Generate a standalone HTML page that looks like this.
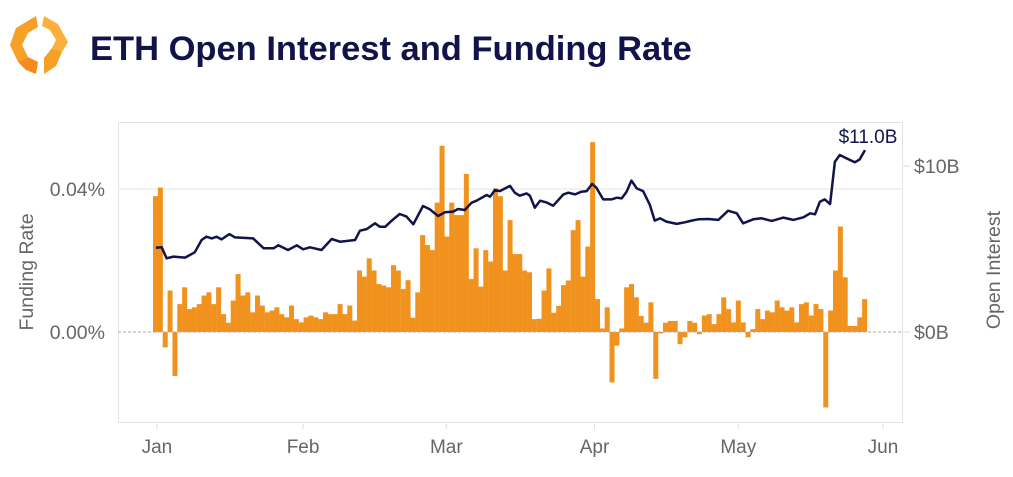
<!DOCTYPE html>
<html><head><meta charset="utf-8">
<style>
body{margin:0;background:#fff;width:1013px;height:472px;overflow:hidden;font-family:"Liberation Sans",Arial,sans-serif;}
</style></head>
<body>
<svg width="1013" height="472" viewBox="0 0 1013 472" xmlns="http://www.w3.org/2000/svg">
  <g>
    <polygon points="36,16 16,28 10,45 18,62 28,57 22,45 28,33 38,27" fill="#f7a028"/>
    <polygon points="44,16 58,24 68,42 62,52 52,48 56,40 50,30 42,26" fill="#fbb03b"/>
    <polygon points="18,62 28,57 38,62 36,74 26,70" fill="#f58a1f"/>
    <polygon points="62,52 52,48 44,58 44,74 56,66" fill="#f7a028"/>
  </g>
  <text x="90" y="60" font-size="34.5" font-weight="bold" fill="#12134a">ETH Open Interest and Funding Rate</text>
  <rect x="118.5" y="122.5" width="784" height="300" fill="none" stroke="#e3e3e3"/>
  <line x1="118" y1="189" x2="902" y2="189" stroke="#e6e6e6"/>
  <g id="bars"></g>
  <line x1="118" y1="332" x2="902" y2="332" stroke="#aaa" stroke-dasharray="3,2"/>
  <path id="oi" fill="none" stroke="#12134a" stroke-width="2.5" stroke-linejoin="round"/>
  <text x="868" y="143" font-size="19" fill="#12134a" text-anchor="middle">$11.0B</text>
  <g id="xticks"></g>
  <g font-size="19.5" fill="#666">
    <text x="105" y="196" text-anchor="end">0.04%</text>
    <text x="105" y="339" text-anchor="end">0.00%</text>
    <text transform="translate(33,272) rotate(-90)" text-anchor="middle">Funding Rate</text>
  </g>
  <g font-size="19.5" fill="#666">
    <line x1="903" y1="166" x2="910" y2="166" stroke="#ddd"/>
    <line x1="903" y1="332" x2="910" y2="332" stroke="#ddd"/>
    <text x="914" y="173">$10B</text>
    <text x="914" y="339">$0B</text>
    <text transform="translate(1000,270) rotate(-90)" text-anchor="middle">Open Interest</text>
  </g>
</svg>
<script>
const fundingRate = [0.038,0.0404,-0.0043,0.0116,-0.0123,0.0078,0.0125,0.0064,0.0069,0.0078,0.0102,0.0111,0.0078,0.0125,0.005,0.0026,0.0088,0.0162,0.0102,0.0111,0.0055,0.0102,0.0074,0.0055,0.006,0.0069,0.005,0.0041,0.0074,0.0036,0.0027,0.0041,0.0046,0.0041,0.0036,0.0055,0.005,0.005,0.0078,0.005,0.0074,0.0032,0.0172,0.0155,0.0206,0.0172,0.0134,0.013,0.0125,0.0187,0.0172,0.012,0.0145,0.004,0.0111,0.0271,0.0243,0.0229,0.0362,0.0521,0.0267,0.0362,0.0327,0.0327,0.0442,0.0148,0.0234,0.0127,0.0229,0.0197,0.0402,0.038,0.0172,0.0313,0.0218,0.0218,0.0172,0.0167,0.0036,0.0037,0.0116,0.0178,0.0054,0.0073,0.0131,0.0144,0.0285,0.0313,0.0155,0.0239,0.0531,0.0092,0.001,0.0069,-0.0141,-0.0038,0.001,0.0125,0.0134,0.0097,0.0045,0.0026,0.0083,-0.0131,-0.0004,0.0026,0.0031,0.0031,-0.0034,-0.0015,0.0031,0.0026,-0.0006,0.0046,0.005,0.0022,0.005,0.0097,0.0064,0.0027,0.0088,0.0027,-0.0015,0.0008,0.0064,0.0036,0.006,0.0055,0.0088,0.0069,0.006,0.0069,0.0027,0.0078,0.0083,0.0046,0.0078,0.0064,-0.0211,0.006,0.0172,0.0295,0.0153,0.0017,0.0017,0.0041,0.0092];
const oiDays = [0.1,1.3,2.3,3.7,6.1,8.1,9.5,10.5,11.6,12.6,13.6,15.2,16.4,20.1,22.3,24.3,25.3,27.3,29.1,30.4,31.8,34.2,36.3,38,41.1,42.1,43.5,45.2,46.2,47.3,48.6,50.3,51.7,53.1,55.1,56.5,58.2,59.6,61.3,62.3,63.7,65.1,66.1,68.2,68.9,69.9,70.9,73,74,75,76.4,77.1,78.1,79.2,80.5,81.9,84,85,86.4,87.7,88.8,89.9,90.8,92.2,93.9,95,96,97,98,99.1,100.4,101.8,102.8,103.9,105.2,107.3,109,110.4,111.8,113.8,115.9,117.9,119.7,121,123.1,124.8,126.9,129.3,131.3,133.4,134.8,135.8,136.8,137.8,138.9,139.9,140.9,142.3,144,145,146.1];
const oiValues = [5.08,5.10,4.44,4.54,4.48,4.80,5.54,5.74,5.64,5.74,5.58,5.90,5.70,5.64,5.04,5.04,5.22,4.94,5.22,4.98,5.10,4.94,5.60,5.44,5.54,6.10,6.20,6.55,6.34,6.34,6.70,7.11,6.95,6.49,7.59,7.39,6.99,7.21,7.25,7.41,7.35,7.79,7.91,8.25,8.15,8.55,8.49,8.80,8.39,8.21,8.35,8.21,7.49,7.91,7.81,7.61,8.29,8.39,8.29,8.45,8.49,8.92,8.69,7.99,7.99,8.09,8.05,8.45,9.12,8.65,8.49,7.65,6.71,6.85,6.65,6.51,6.61,6.71,6.79,6.81,6.75,7.31,7.15,6.55,6.79,6.85,6.69,6.89,6.75,6.91,7.15,7.09,7.85,7.99,7.71,10.26,10.66,10.46,10.22,10.40,10.96];
const monthLabels = ["Jan","Feb","Mar","Apr","May","Jun"];
const monthDays = [0.3,30.4,59.9,90.4,120,149.8];

const NS = "http://www.w3.org/2000/svg";
const dayW = 4.857;
function xDay(d){ return 153 + d*dayW; }
function yRate(v){ return 332 - v/0.01*35.75; }
function yOI(v){ return 332 - v*16.6; }

const gb = document.getElementById('bars');
fundingRate.forEach((v,i)=>{
  const r = document.createElementNS(NS,'rect');
  const y0 = yRate(0), y1 = yRate(v);
  r.setAttribute('x', xDay(i));
  r.setAttribute('width', dayW+0.15);
  r.setAttribute('y', Math.min(y0,y1));
  r.setAttribute('height', Math.abs(y1-y0));
  r.setAttribute('fill', '#f0921d');
  
  
  gb.appendChild(r);
});

let d = '';
oiDays.forEach((day,i)=>{
  d += (i?'L':'M') + (xDay(day)+dayW/2).toFixed(1) + ',' + yOI(oiValues[i]).toFixed(1);
});
document.getElementById('oi').setAttribute('d', d);

const gx = document.getElementById('xticks');
monthLabels.forEach((m,i)=>{
  const cx = xDay(monthDays[i]) + dayW/2;
  const ln = document.createElementNS(NS,'line');
  ln.setAttribute('x1',cx); ln.setAttribute('x2',cx);
  ln.setAttribute('y1',424); ln.setAttribute('y2',429);
  ln.setAttribute('stroke','#ddd');
  
  
  gx.appendChild(ln);
  const t = document.createElementNS(NS,'text');
  t.setAttribute('x',cx); t.setAttribute('y',453);
  t.setAttribute('text-anchor','middle');
  t.setAttribute('font-size','19');
  t.setAttribute('fill','#666');
  t.textContent = m;
  
  
  gx.appendChild(t);
});
</script>
</body></html>
